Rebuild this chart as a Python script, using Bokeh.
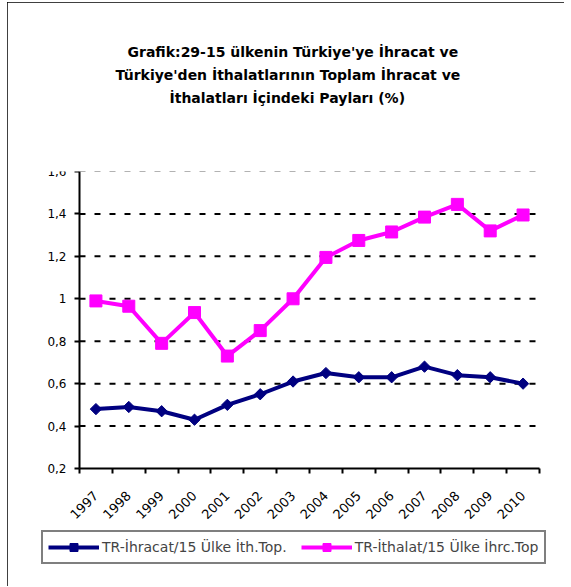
import math
from bokeh.plotting import figure
from bokeh.models import FixedTicker, Legend, LegendItem, Range1d, Title
from bokeh.embed import file_html
from bokeh.resources import INLINE

years = ["1997", "1998", "1999", "2000", "2001", "2002", "2003",
         "2004", "2005", "2006", "2007", "2008", "2009", "2010"]
ihracat = [0.48, 0.49, 0.47, 0.43, 0.50, 0.55, 0.61,
           0.65, 0.63, 0.63, 0.68, 0.64, 0.63, 0.60]
ithalat = [0.99, 0.965, 0.79, 0.935, 0.73, 0.85, 1.00,
           1.195, 1.275, 1.315, 1.385, 1.445, 1.32, 1.395]
y_ticks = [0.2, 0.4, 0.6, 0.8, 1.0, 1.2, 1.4, 1.6]
y_tick_labels = ["0,2", "0,4", "0,6", "0,8", "1", "1,2", "1,4", "1,6"]
title_lines = ["Grafik:29-15 ülkenin Türkiye'ye İhracat ve",
               "Türkiye'den İthalatlarının Toplam İhracat ve",
               "İthalatları İçindeki Payları (%)"]
series_names = ["TR-İhracat/15 Ülke İth.Top.", "TR-İthalat/15 Ülke İhrc.Top"]

FONT = "DejaVu Sans"
NAVY = "#000080"
PINK = "#FF00FF"

n = len(years)
xs = [i + 0.5 for i in range(n)]

# plot-area geometry (pixels): 460 x 297 for the axes, with extra room around
# it inside the frame for tick labels and the legend
AXIS_W, AXIS_H = 460, 297
PAD_L, PAD_R, PAD_B = 39, 8, 104
x_unit = n / AXIS_W
y_unit = (y_ticks[-1] - y_ticks[0]) / AXIS_H

p = figure(frame_width=AXIS_W + PAD_L + PAD_R, frame_height=AXIS_H + PAD_B,
           output_backend="svg", toolbar_location=None,
           x_range=Range1d(-PAD_L * x_unit, n + PAD_R * x_unit),
           y_range=Range1d(y_ticks[0] - PAD_B * y_unit, y_ticks[-1]),
           min_border_left=33, min_border_right=17, min_border_top=169,
           min_border_bottom=14)
p.outline_line_color = None
p.background_fill_color = "white"
p.border_fill_color = "white"
p.styles = {"outline": "2px solid black", "outline-offset": "-2px",
            "margin-left": "7px", "margin-top": "2px"}

# title: spacer nearest the frame, then three lines (nearest first)
p.add_layout(Title(text=" ", standoff=45, text_font=FONT,
                   text_font_size="14px"), "above")
title_offsets = [87, 75, 129]
for line, off in reversed(list(zip(title_lines, title_offsets))):
    p.add_layout(Title(text=line, align="left", offset=off, standoff=5,
                       text_font=FONT, text_font_style="bold",
                       text_font_size="14px", text_color="black"), "above")

# grid lines (dashed), drawn under the series
p.xgrid.visible = False
p.ygrid.visible = False
inner = y_ticks[1:-1]
p.segment(x0=[0] * len(inner), y0=inner, x1=[n] * len(inner), y1=inner,
          line_color="black", line_width=2, line_dash="6 9")
p.segment(x0=[0], y0=y_ticks[-1:], x1=[n], y1=y_ticks[-1:],
          line_color="#666666", line_width=1, line_dash="6 9")

# axes
for ax in (p.xaxis, p.yaxis):
    ax.axis_line_color = "black"
    ax.axis_line_width = 2
    ax.major_label_text_font = FONT
    ax.major_label_text_color = "black"
p.yaxis.major_label_text_font_size = "12px"
p.xaxis.major_label_text_font_size = "13px"

p.xaxis.fixed_location = y_ticks[0]
p.xaxis.bounds = (0, n)
p.xaxis.ticker = FixedTicker(ticks=xs, minor_ticks=list(range(n + 1)))
p.xaxis.major_label_overrides = {x: y for x, y in zip(xs, years)}
p.xaxis.major_tick_out = 0
p.xaxis.major_tick_in = 0
p.xaxis.minor_tick_out = 5
p.xaxis.minor_tick_in = 0
p.xaxis.minor_tick_line_width = 2
p.xaxis.minor_tick_line_color = "black"
p.xaxis.major_label_orientation = math.pi / 4
p.xaxis.major_label_standoff = 20

p.yaxis.fixed_location = 0
p.yaxis.bounds = (y_ticks[0], y_ticks[-1])
p.yaxis.ticker = FixedTicker(ticks=y_ticks)
p.yaxis.major_label_overrides = {t: l for t, l in zip(y_ticks, y_tick_labels)}
p.yaxis.major_tick_out = 5
p.yaxis.major_tick_in = 0
p.yaxis.major_tick_line_width = 2
p.yaxis.minor_tick_line_color = None
p.yaxis.major_label_standoff = 8

# series
l1 = p.line(xs, ihracat, line_color=NAVY, line_width=4)
s1 = p.scatter(xs, ihracat, marker="square", angle=math.pi / 4, size=8,
               fill_color=NAVY, line_color=NAVY)
l2 = p.line(xs, ithalat, line_color=PINK, line_width=4)
s2 = p.scatter(xs, ithalat, marker="square", size=12,
               fill_color=PINK, line_color=PINK)

legend = Legend(items=[LegendItem(label=series_names[0], renderers=[l1, s1]),
                       LegendItem(label=series_names[1], renderers=[l2, s2])],
                orientation="horizontal", location=(1, 8),
                border_line_color="black", border_line_width=2,
                padding=5, spacing=14, glyph_width=51, glyph_height=20,
                label_standoff=3, label_text_font=FONT,
                label_text_font_size="14px", background_fill_alpha=1.0,
                margin=0)
p.add_layout(legend)

open("out.html", "w").write(file_html(p, INLINE))
